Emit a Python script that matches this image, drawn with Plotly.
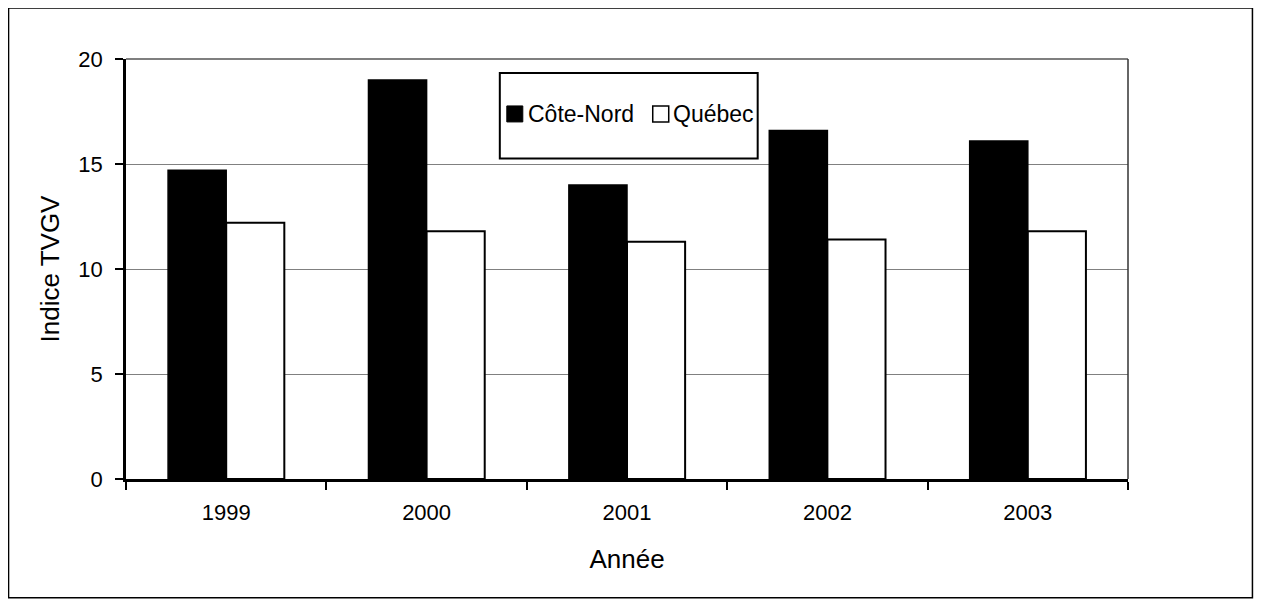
import plotly.graph_objects as go

years = ["1999", "2000", "2001", "2002", "2003"]
cote_nord = [14.7, 19.0, 14.0, 16.6, 16.1]
quebec = [12.2, 11.8, 11.3, 11.4, 11.8]
y_ticks = [0, 5, 10, 15, 20]
series_names = ["Côte-Nord", "Québec"]

# page is offset by 8px (body margin)
OFF = 8
W, H = 1262 - 2 * OFF, 607 - 2 * OFF
L, R, T, B = 126 - OFF, 1128.5 - OFF, 58.5 - OFF, 479 - OFF
pw, ph = R - L, B - T


def px(x):
    return (x - OFF - L) / pw


def py(y):
    return (B - (y - OFF)) / ph


fig = go.Figure()
fig.add_trace(go.Bar(x=years, y=cote_nord, name=series_names[0], showlegend=False,
                     marker=dict(color="black", line=dict(color="black", width=1.5))))
fig.add_trace(go.Bar(x=years, y=quebec, name=series_names[1], showlegend=False,
                     marker=dict(color="white", line=dict(color="black", width=2))))

font = "Liberation Sans, Arial, sans-serif"
fig.update_layout(
    width=W, height=H,
    margin=dict(l=L, r=W - R, t=T, b=H - B, pad=0),
    paper_bgcolor="white", plot_bgcolor="white",
    barmode="group", bargap=0.42, bargroupgap=0,
    font=dict(family=font, size=23, color="black"),
    showlegend=False,
    xaxis=dict(type="category", tickson="boundaries", ticks="outside", ticklen=8,
               tickwidth=2, tickcolor="black", showline=True, linecolor="black",
               linewidth=2.5, showgrid=False, tickfont=dict(size=22),
               ticklabelstandoff=12,
               title=dict(text="Année", font=dict(size=26), standoff=26)),
    yaxis=dict(range=[0, 20], tickvals=y_ticks, ticks="outside", ticklen=8,
               tickwidth=2, tickcolor="black", showline=True, linecolor="black",
               linewidth=2.5, showgrid=True, gridcolor="#808080", gridwidth=1,
               zeroline=False, tickfont=dict(size=22), ticklabelstandoff=8,
               title=dict(text="Indice TVGV", font=dict(size=26), standoff=12)),
)

# thin frame on top/right of plot area
fig.add_shape(type="line", xref="paper", yref="paper", x0=0, x1=1, y0=1, y1=1,
              line=dict(color="#555555", width=1.5))
fig.add_shape(type="line", xref="paper", yref="paper", x0=1, x1=1, y0=0, y1=1,
              line=dict(color="#333333", width=1.5))

# legend box (drawn manually to match the reference proportions)
fig.add_shape(type="rect", xref="paper", yref="paper",
              x0=px(500), x1=px(758), y0=py(158), y1=py(72.5),
              line=dict(color="black", width=2), fillcolor="white", layer="above")
fig.add_shape(type="rect", xref="paper", yref="paper",
              x0=px(507), x1=px(523), y0=py(121.5), y1=py(105.5),
              line=dict(color="black", width=1), fillcolor="black", layer="above")
fig.add_shape(type="rect", xref="paper", yref="paper",
              x0=px(653), x1=px(669), y0=py(121.5), y1=py(105.5),
              line=dict(color="black", width=1.5), fillcolor="white", layer="above")
fig.add_annotation(xref="paper", yref="paper", x=px(526), y=py(113.5), text=series_names[0],
                   showarrow=False, xanchor="left", yanchor="middle", font=dict(size=23))
fig.add_annotation(xref="paper", yref="paper", x=px(671), y=py(113.5), text=series_names[1],
                   showarrow=False, xanchor="left", yanchor="middle", font=dict(size=23))

# outer chart border
fig.add_shape(type="rect", xref="paper", yref="paper",
              x0=px(8.5), x1=px(1253), y0=py(598), y1=py(7.5),
              line=dict(color="black", width=1.5))

fig.write_html("out.html")
